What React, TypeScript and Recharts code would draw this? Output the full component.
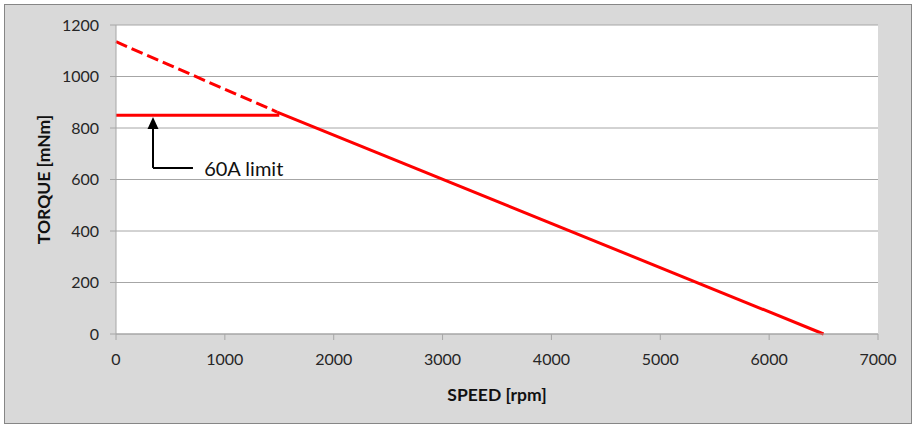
import { LineChart, Line, XAxis, YAxis, CartesianGrid, ReferenceLine, ReferenceDot } from 'recharts';

// torque-speed curve
const speedTicks = [0, 1000, 2000, 3000, 4000, 5000, 6000, 7000];
const torqueTicks = [0, 200, 400, 600, 800, 1000, 1200];

const unlimitedPart = [
  { speed: 0, torque: 1135 },
  { speed: 1480, torque: 862 },
];
const motorCurve = [
  { speed: 1480, torque: 862 },
  { speed: 6500, torque: 0 },
];
const currentLimit = [
  { speed: 0, torque: 850 },
  { speed: 1500, torque: 850 },
];

// annotation anchor (data units)
const arrowSpeed = 340;
const arrowBottom = 645;
const arrowHeadBase = 798;
const arrowTip = 843;
const arrowElbowEnd = 707;
const labelSpeed = 810;
const labelText = '60A limit';

const FONT = 'Lato, "Open Sans", sans-serif';
const GRID = '#a6a6a6';
const RED = '#ff0000';

export default function App() {
  return (
    <div style={{ position: 'absolute', left: 0, top: 0, width: 912, height: 425, background: '#fff' }}>
      <div
        style={{
          position: 'absolute',
          left: 4,
          top: 4,
          width: 906,
          height: 418,
          background: '#d9d9d9',
          border: '1px solid #868686',
        }}
      />
      <div style={{ position: 'absolute', left: 0, top: 0 }}>
        <LineChart
          width={912}
          height={425}
          margin={{ top: 25, right: 34, bottom: 51, left: 56 }}
          style={{ fontFamily: FONT }}
        >
          <CartesianGrid vertical={false} stroke={GRID} fill="#ffffff" strokeWidth={1} />
          <XAxis
            type="number"
            dataKey="speed"
            domain={[0, 7000]}
            ticks={speedTicks}
            interval={0}
            height={40}
            stroke={GRID}
            tickSize={6}
            tickMargin={14}
            tick={{ fill: '#262626', fontSize: 16 }}
            label={({ viewBox }: any) => (
              <text
                x={viewBox.x + viewBox.width / 2}
                y={viewBox.y + 60}
                textAnchor="middle"
                dominantBaseline="central"
                fontWeight="bold"
                fontSize={17.5}
                fill="#111"
                fontFamily={FONT}
              >
                SPEED [rpm]
              </text>
            )}
          />
          <YAxis
            type="number"
            domain={[0, 1200]}
            ticks={torqueTicks}
            interval={0}
            width={60}
            stroke={GRID}
            tickSize={6}
            tickMargin={11}
            tick={{ fill: '#262626', fontSize: 16 }}
            label={({ viewBox }: any) => {
              const cx = viewBox.x - 13;
              const cy = viewBox.y + viewBox.height / 2;
              return (
                <text
                  x={cx}
                  y={cy}
                  transform={`rotate(-90 ${cx} ${cy})`}
                  textAnchor="middle"
                  dominantBaseline="central"
                  fontWeight="bold"
                  fontSize={17.5}
                  fill="#111"
                  fontFamily={FONT}
                >
                  TORQUE [mNm]
                </text>
              );
            }}
          />
          <Line
            data={unlimitedPart}
            dataKey="torque"
            type="linear"
            stroke={RED}
            strokeWidth={3}
            strokeDasharray="12 5"
            dot={false}
            activeDot={false}
            isAnimationActive={false}
          />
          <Line
            data={motorCurve}
            dataKey="torque"
            type="linear"
            stroke={RED}
            strokeWidth={3}
            dot={false}
            activeDot={false}
            isAnimationActive={false}
          />
          <Line
            data={currentLimit}
            dataKey="torque"
            type="linear"
            stroke={RED}
            strokeWidth={3}
            dot={false}
            activeDot={false}
            isAnimationActive={false}
          />
          <ReferenceLine
            segment={[
              { x: arrowSpeed, y: arrowBottom },
              { x: arrowSpeed, y: arrowHeadBase },
            ]}
            stroke="#000"
            strokeWidth={2}
          />
          <ReferenceLine
            segment={[
              { x: arrowSpeed, y: arrowBottom },
              { x: arrowElbowEnd, y: arrowBottom },
            ]}
            stroke="#000"
            strokeWidth={2}
          />
          <ReferenceDot
            x={arrowSpeed}
            y={arrowTip}
            shape={({ cx, cy }: any) => (
              <polygon points={`${cx},${cy} ${cx - 5.5},${cy + 12} ${cx + 5.5},${cy + 12}`} fill="#000" />
            )}
          />
          <ReferenceDot
            x={labelSpeed}
            y={arrowBottom}
            shape={({ cx, cy }: any) => (
              <text x={cx} y={cy} dominantBaseline="central" fontSize={20} fill="#111" fontFamily={FONT}>
                {labelText}
              </text>
            )}
          />
        </LineChart>
      </div>
    </div>
  );
}
